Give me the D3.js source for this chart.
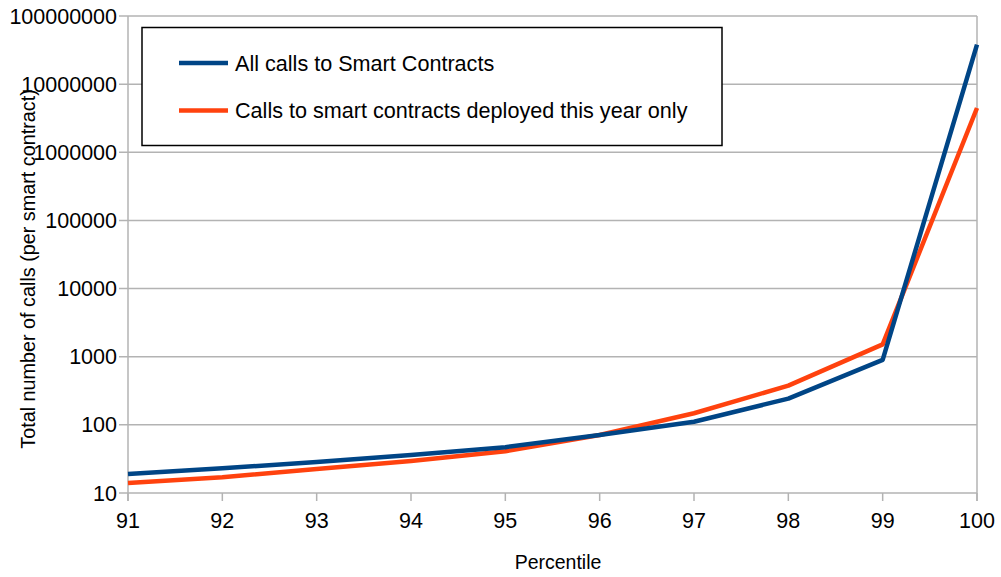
<!DOCTYPE html>
<html>
<head>
<meta charset="utf-8">
<script src="https://cdn.jsdelivr.net/npm/d3@7"></script>
<style>
  body { margin: 0; background: #fff; }
  text { font-family: "Liberation Sans", Arial, sans-serif; fill: #000; }
</style>
</head>
<body>
<svg id="chart" width="1001" height="577"></svg>
<script>
const percentiles = [91, 92, 93, 94, 95, 96, 97, 98, 99, 100];
const allCalls = [19, 23, 28.5, 36, 47, 71, 111, 243, 900, 38000000];
const thisYearCalls = [14, 17, 22.5, 29.5, 41, 71, 148, 377, 1520, 4470000];
const seriesNames = ["All calls to Smart Contracts", "Calls to smart contracts deployed this year only"];
const seriesColors = ["#004586", "#ff420e"];
const yTicks = [10, 100, 1000, 10000, 100000, 1000000, 10000000, 100000000];

const svg = d3.select("#chart");
const plotLeft = 128, plotRight = 977, plotTop = 16, plotBottom = 493;

const x = d3.scaleLinear().domain([91, 100]).range([plotLeft, plotRight]);
const y = d3.scaleLog().domain([10, 100000000]).range([plotBottom, plotTop]);

// gridlines horizontales
svg.append("g")
  .selectAll("line")
  .data(yTicks)
  .join("line")
  .attr("x1", plotLeft - 9).attr("x2", plotRight)
  .attr("y1", d => y(d)).attr("y2", d => y(d))
  .attr("stroke", "#b3b3b3").attr("stroke-width", 1.5);

// bordes verticales
svg.append("line").attr("x1", plotLeft).attr("x2", plotLeft).attr("y1", plotTop).attr("y2", plotBottom + 8)
  .attr("stroke", "#b3b3b3").attr("stroke-width", 1.5);
svg.append("line").attr("x1", plotRight).attr("x2", plotRight).attr("y1", plotTop).attr("y2", plotBottom + 8)
  .attr("stroke", "#b3b3b3").attr("stroke-width", 1.5);

// ticks eje x
svg.append("g")
  .selectAll("line")
  .data(percentiles)
  .join("line")
  .attr("x1", d => x(d)).attr("x2", d => x(d))
  .attr("y1", plotBottom).attr("y2", plotBottom + 8)
  .attr("stroke", "#b3b3b3").attr("stroke-width", 1.5);

// etiquetas eje y
svg.append("g")
  .selectAll("text")
  .data(yTicks)
  .join("text")
  .attr("x", plotLeft - 11)
  .attr("y", d => y(d))
  .attr("dy", "0.35em")
  .attr("text-anchor", "end")
  .style("font-size", "21.5px")
  .text(d => d3.format("d")(d));

// etiquetas eje x
svg.append("g")
  .selectAll("text")
  .data(percentiles)
  .join("text")
  .attr("x", d => x(d))
  .attr("y", 528)
  .attr("text-anchor", "middle")
  .style("font-size", "21.5px")
  .text(d => d);

// titulos de ejes
svg.append("text")
  .attr("x", 558).attr("y", 569)
  .attr("text-anchor", "middle")
  .style("font-size", "19.5px")
  .text("Percentile");

svg.append("text")
  .attr("transform", "translate(35,269) rotate(-90)")
  .attr("text-anchor", "middle")
  .style("font-size", "19.8px")
  .text("Total number of calls (per smart contract)");

// lineas
const line = d3.line()
  .x((d, i) => x(percentiles[i]))
  .y(d => y(d));

[thisYearCalls, allCalls].forEach((vals, k) => {
  svg.append("path")
    .datum(vals)
    .attr("fill", "none")
    .attr("stroke", seriesColors[1 - k])
    .attr("stroke-width", 4.5)
    .attr("stroke-linejoin", "round")
    .attr("d", line);
});

// leyenda
const legend = svg.append("g");
legend.append("rect")
  .attr("x", 142).attr("y", 27.5).attr("width", 580).attr("height", 118)
  .attr("fill", "#fff").attr("stroke", "#000").attr("stroke-width", 1.5);

seriesNames.forEach((name, i) => {
  const ly = 63 + i * 47.5;
  legend.append("line")
    .attr("x1", 179).attr("x2", 228).attr("y1", ly).attr("y2", ly)
    .attr("stroke", seriesColors[i]).attr("stroke-width", 4.5);
  legend.append("text")
    .attr("x", 235).attr("y", ly)
    .attr("dy", "0.35em")
    .style("font-size", "21.6px")
    .text(name);
});
</script>
</body>
</html>
